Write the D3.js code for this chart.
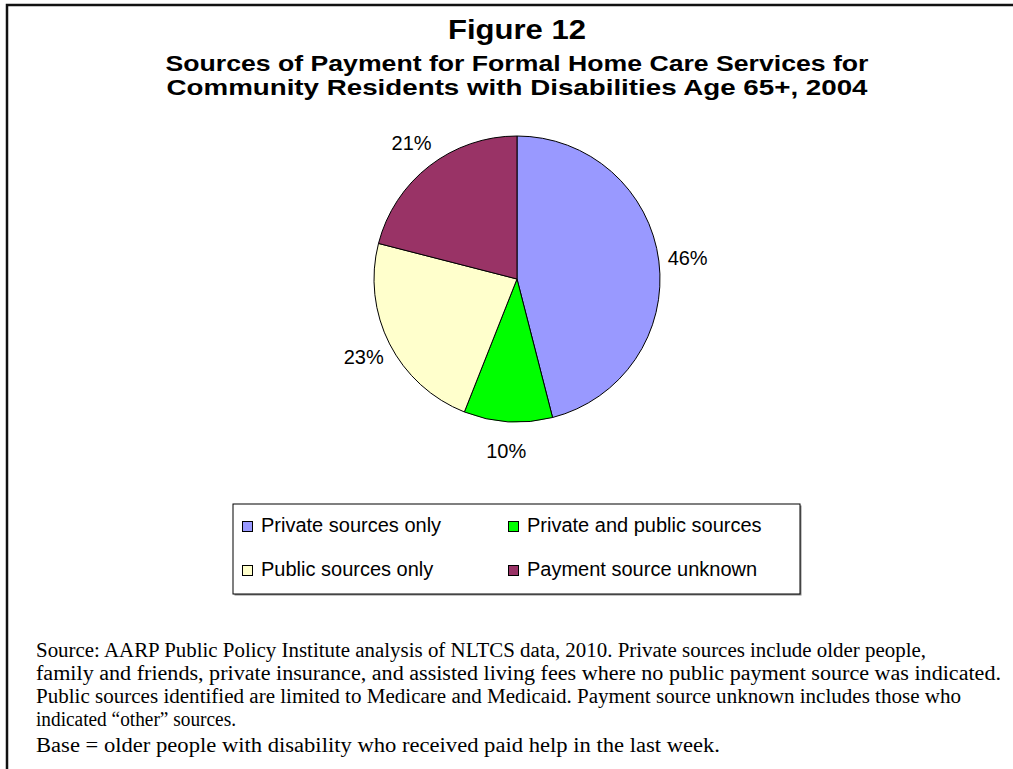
<!DOCTYPE html>
<html>
<head>
<meta charset="utf-8">
<script src="https://cdn.jsdelivr.net/npm/d3@7"></script>
<style>
  html, body { margin: 0; padding: 0; background: #fff; }
  svg { display: block; }
</style>
</head>
<body>
<svg id="chart" width="1013" height="769"></svg>
<script>
// Payment-source shares (percent), clockwise from 12 o'clock
const categories = ["Private sources only", "Private and public sources", "Public sources only", "Payment source unknown"];
const shares = [46, 10, 23, 21];
const colors = ["#9999FF", "#00FF00", "#FFFFCC", "#993366"];

const titleText = "Figure 12";
const subtitleLines = [
  "Sources of Payment for Formal Home Care Services for",
  "Community Residents with Disabilities Age 65+, 2004"
];
const noteLines = [
  "Source: AARP Public Policy Institute analysis of NLTCS data, 2010. Private sources include older people,",
  "family and friends, private insurance, and assisted living fees where no public payment source was indicated.",
  "Public sources identified are limited to Medicare and Medicaid. Payment source unknown includes those who",
  "indicated \u201cother\u201d sources."
];
const baseLine = "Base = older people with disability who received paid help in the last week.";

// set widths of the typeset lines
const subWidths = [703, 701];
const noteWidths = [890, 965, 925, 200];
const baseWidth = 684;

const svg = d3.select("#chart");
const sans = "Arial, 'Liberation Sans', Helvetica, sans-serif";
const serif = "'Times New Roman', 'Liberation Serif', serif";

// page frame (top and left rules)
svg.append("path")
  .attr("d", "M7,769V5H1013")
  .attr("fill", "none")
  .attr("stroke", "#111")
  .attr("stroke-width", 2.5);

// titles
svg.append("text")
  .attr("x", 517).attr("y", 39)
  .attr("text-anchor", "middle")
  .attr("font-family", sans).attr("font-weight", "bold").attr("font-size", 27)
  .attr("textLength", 138).attr("lengthAdjust", "spacingAndGlyphs")
  .text(titleText);

svg.selectAll("text.sub")
  .data(subtitleLines)
  .join("text")
  .attr("class", "sub")
  .attr("x", 517)
  .attr("y", (d, i) => 71 + i * 24)
  .attr("text-anchor", "middle")
  .attr("font-family", sans).attr("font-weight", "bold").attr("font-size", 22.5)
  .attr("textLength", (d, i) => subWidths[i]).attr("lengthAdjust", "spacingAndGlyphs")
  .text(d => d);

// pie
const cx = 517, cy = 279, radius = 143;
const pie = d3.pie().sort(null).value(d => d)(shares);
const arc = d3.arc().innerRadius(0).outerRadius(radius);
const labelArc = d3.arc().innerRadius(172).outerRadius(172);
const color = d3.scaleOrdinal().domain(categories).range(colors);

const g = svg.append("g").attr("transform", `translate(${cx},${cy})`);
g.selectAll("path")
  .data(pie)
  .join("path")
  .attr("d", arc)
  .attr("fill", (d, i) => color(categories[i]))
  .attr("stroke", "#000")
  .attr("stroke-width", 1);

g.selectAll("text")
  .data(pie)
  .join("text")
  .attr("transform", d => `translate(${labelArc.centroid(d)})`)
  .attr("text-anchor", "middle")
  .attr("dy", "0.36em")
  .attr("font-family", sans).attr("font-size", 20)
  .text(d => d.data + "%");

// legend
const lx = 233, ly = 504, lw = 567, lh = 90;
svg.append("rect")
  .attr("x", lx + 1.5).attr("y", ly + 1.5).attr("width", lw).attr("height", lh)
  .attr("fill", "#888");
svg.append("rect")
  .attr("x", lx).attr("y", ly).attr("width", lw).attr("height", lh)
  .attr("fill", "#fff").attr("stroke", "#000").attr("stroke-width", 1);

const colX = [242, 508], rowY = [521, 565];
const items = svg.selectAll("g.item")
  .data(categories)
  .join("g")
  .attr("class", "item")
  .attr("transform", (d, i) => `translate(${colX[i % 2]},${rowY[Math.floor(i / 2)]})`);
items.append("rect")
  .attr("x", 0.5).attr("y", 0.5).attr("width", 10).attr("height", 10)
  .attr("fill", d => color(d)).attr("stroke", "#000").attr("stroke-width", 1);
items.append("text")
  .attr("x", 19).attr("y", 11)
  .attr("font-family", sans).attr("font-size", 20)
  .text(d => d);

// notes
svg.selectAll("text.note")
  .data(noteLines)
  .join("text")
  .attr("class", "note")
  .attr("x", 36)
  .attr("y", (d, i) => 657 + i * 23)
  .attr("font-family", serif).attr("font-size", 20.5)
  .attr("textLength", (d, i) => noteWidths[i]).attr("lengthAdjust", "spacingAndGlyphs")
  .text(d => d);
svg.append("text")
  .attr("x", 36).attr("y", 752)
  .attr("font-family", serif).attr("font-size", 20.5)
  .attr("textLength", baseWidth).attr("lengthAdjust", "spacingAndGlyphs")
  .text(baseLine);
</script>
</body>
</html>
